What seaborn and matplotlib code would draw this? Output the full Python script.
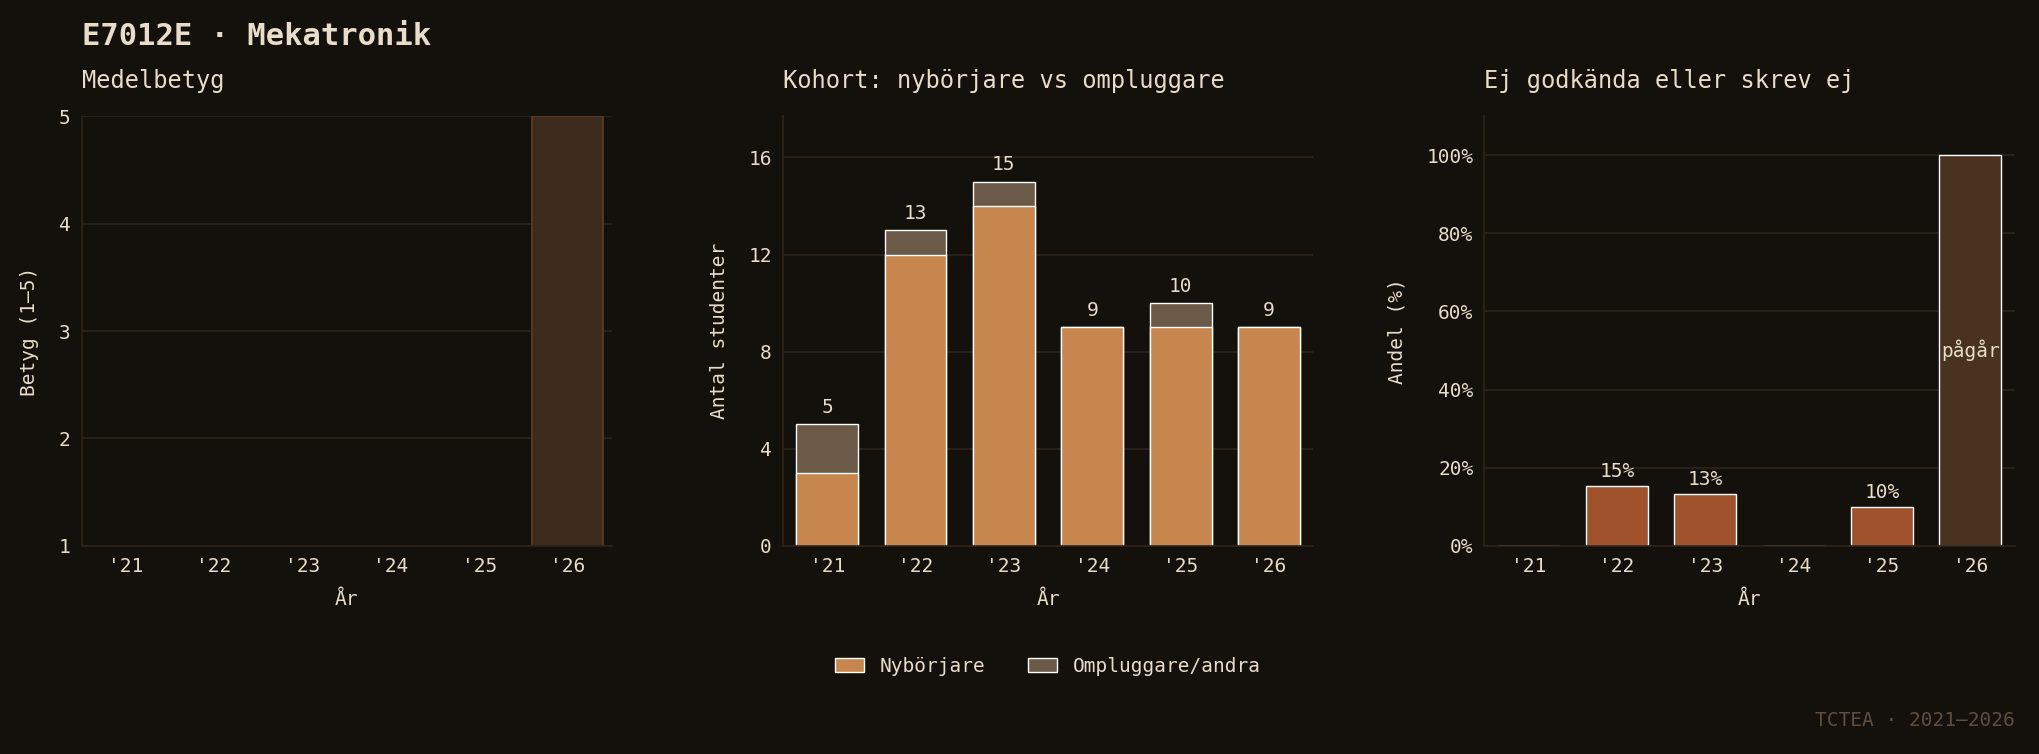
import matplotlib
matplotlib.use("Agg")
import matplotlib.pyplot as plt
import seaborn as sns
import pandas as pd
import numpy as np

years = ["'21", "'22", "'23", "'24", "'25", "'26"]
nyborjare = [3, 12, 14, 9, 9, 9]
ompluggare = [2, 1, 1, 0, 1, 0]
totals = [5, 13, 15, 9, 10, 9]
fail_pct = [0, 15.4, 13.3, 0, 10.0, None]
fail_labels = ["", "15%", "13%", "", "10%", ""]
ongoing_year = "'26"

BG = "#14100c"
TXT = "#e8dccb"
GRID = "#2e241b"
C_NEW = "#c8864f"
C_OLD = "#6b5a48"
C_FAIL = "#a0522d"
C_ONGO = "#4a3220"

sns.set_theme(style="dark")
plt.rcParams.update({
    "font.family": ["DejaVu Sans Mono", "DejaVu Sans"],
    "figure.facecolor": BG, "axes.facecolor": BG, "savefig.facecolor": BG,
    "text.color": TXT, "axes.labelcolor": TXT, "xtick.color": TXT, "ytick.color": TXT,
    "axes.edgecolor": GRID, "grid.color": GRID,
})

fig = plt.figure(figsize=(20.39, 7.54), dpi=100)
lefts = [0.040, 0.384, 0.728]
axs = [fig.add_axes([l, 0.276, 0.260, 0.570]) for l in lefts]

def style(ax):
    ax.set_facecolor(BG)
    for s in ["top", "right"]:
        ax.spines[s].set_visible(False)
    for s in ["left", "bottom"]:
        ax.spines[s].set_color(GRID)
        ax.spines[s].set_linewidth(1.2)
    ax.grid(axis="y", color=GRID, linewidth=1.2)
    ax.grid(axis="x", visible=False)
    ax.set_axisbelow(True)
    ax.tick_params(labelsize=14, length=0, pad=8)

# Panel 1
ax = axs[0]
df1 = pd.DataFrame({"year": years, "v": [5 if y == ongoing_year else 0 for y in years]})
sns.barplot(data=df1, x="year", y="v", ax=ax, color="#3d2b1d", width=0.8,
            edgecolor="#5a3f28", linewidth=1.2, saturation=1, bottom=0)
ax.set_ylim(1, 5)
ax.set_yticks([1, 2, 3, 4, 5])
ax.set_xlim(-0.5, 5.5)
style(ax)
ax.set_xlabel("År", fontsize=14, labelpad=10)
ax.set_ylabel("Betyg (1–5)", fontsize=14, labelpad=14)
ax.set_title("Medelbetyg", loc="left", fontsize=17, pad=20, color=TXT)

# Panel 2
ax = axs[1]
df2 = pd.DataFrame({"year": years, "tot": totals, "new": nyborjare})
sns.barplot(data=df2, x="year", y="tot", ax=ax, color=C_OLD, width=0.7, saturation=1,
            label="Ompluggare/andra")
sns.barplot(data=df2, x="year", y="new", ax=ax, color=C_NEW, width=0.7, saturation=1,
            label="Nybörjare")
for i, t in enumerate(totals):
    ax.text(i, t + 0.3, str(t), ha="center", va="bottom", fontsize=14, color=TXT)
ax.set_ylim(0, 17.7)
ax.set_yticks([0, 4, 8, 12, 16])
ax.set_xlim(-0.5, 5.5)
style(ax)
ax.set_xlabel("År", fontsize=14, labelpad=10)
ax.set_ylabel("Antal studenter", fontsize=14, labelpad=14)
ax.set_title("Kohort: nybörjare vs ompluggare", loc="left", fontsize=17, pad=20, color=TXT)
h, l = ax.get_legend_handles_labels()
ax.legend(h[::-1], l[::-1], loc="center", bbox_to_anchor=(0.5, -0.28), ncol=2,
          frameon=False, fontsize=14, handlelength=1.5, columnspacing=2.2,
          labelcolor=TXT)

# Panel 3
ax = axs[2]
df3 = pd.DataFrame({"year": years,
                    "f": [0 if v is None else v for v in fail_pct],
                    "o": [100 if y == ongoing_year else 0 for y in years]})
sns.barplot(data=df3, x="year", y="o", ax=ax, color=C_ONGO, width=0.7, saturation=1)
sns.barplot(data=df3, x="year", y="f", ax=ax, color=C_FAIL, width=0.7, saturation=1)
for i, (v, lab) in enumerate(zip(df3["f"], fail_labels)):
    if lab:
        ax.text(i, v + 1.2, lab, ha="center", va="bottom", fontsize=14, color=TXT)
ax.text(years.index(ongoing_year), 50, "pågår", ha="center", va="center", fontsize=14, color=TXT)
ax.set_ylim(0, 110)
ax.set_yticks([0, 20, 40, 60, 80, 100])
ax.set_yticklabels([f"{t}%" for t in [0, 20, 40, 60, 80, 100]])
ax.set_xlim(-0.5, 5.5)
style(ax)
ax.set_xlabel("År", fontsize=14, labelpad=10)
ax.set_ylabel("Andel (%)", fontsize=14, labelpad=14)
ax.set_title("Ej godkända eller skrev ej", loc="left", fontsize=17, pad=20, color=TXT)

fig.text(0.040, 0.952, "E7012E · Mekatronik", fontsize=22, fontweight="bold", color=TXT,
         va="center", ha="left")
fig.text(0.988, 0.045, "TCTEA · 2021–2026", fontsize=14, color="#5e4e3e", ha="right", va="center")

fig.savefig("out.png", dpi=100, facecolor=BG)
